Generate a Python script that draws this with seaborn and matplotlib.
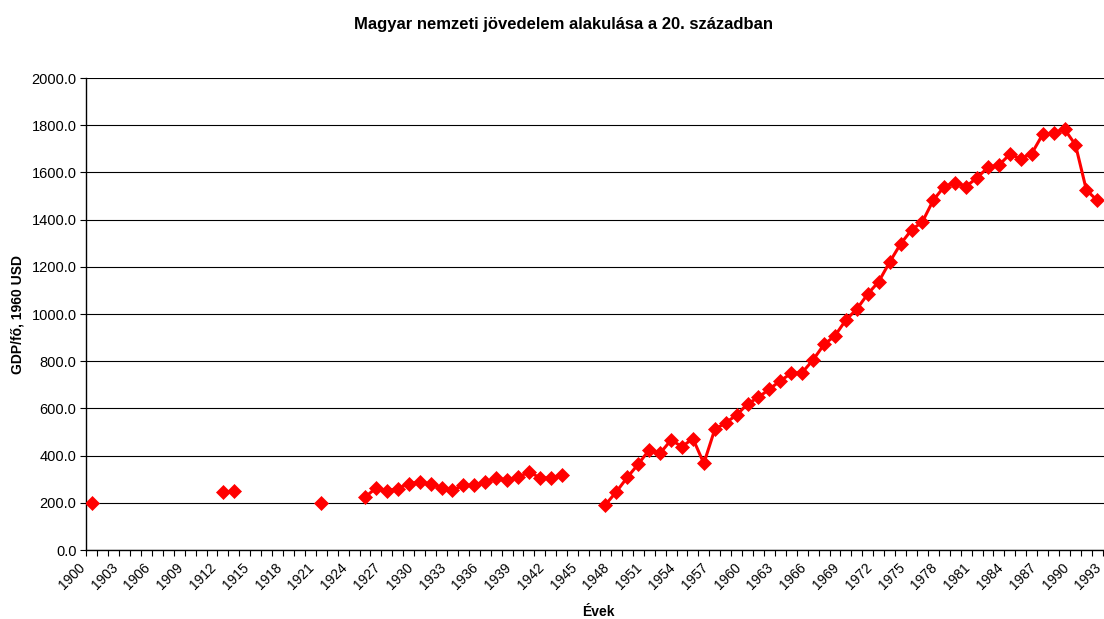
import numpy as np
import pandas as pd
import matplotlib
matplotlib.use("Agg")
import matplotlib.pyplot as plt
import matplotlib.transforms as mtrans
from matplotlib.ticker import MultipleLocator, FormatStrFormatter
import seaborn as sns

nan = np.nan
years = list(range(1900, 1994))
gdp = [
    200,                                                   # 1900
    nan, nan, nan, nan, nan, nan, nan, nan, nan, nan, nan,  # 1901-1911
    244, 248,                                              # 1912-1913
    nan, nan, nan, nan, nan, nan, nan,                     # 1914-1920
    198,                                                   # 1921
    nan, nan, nan,                                         # 1922-1924
    223, 263, 251, 260, 281, 288, 280, 264, 254, 274,      # 1925-1934
    274, 288, 304, 297, 308, 331, 306, 305, 319,           # 1935-1943
    nan, nan, nan,                                         # 1944-1946
    192, 247, 308,                                         # 1947-1949
    364, 424, 410, 466, 438, 472, 367, 511, 539, 572,      # 1950-1959
    619, 647, 682, 717, 749, 752, 806, 871, 908, 975,      # 1960-1969
    1021, 1085, 1137, 1220, 1297, 1356, 1391, 1483, 1540, 1556,  # 1970-1979
    1540, 1578, 1621, 1631, 1677, 1658, 1680, 1761, 1766, 1783,  # 1980-1989
    1717, 1525, 1481,                                      # 1990-1992
    nan,                                                   # 1993
]
label_years = years[::3]

title = "Magyar nemzeti jövedelem alakulása a 20. században"
xlabel = "Évek"
ylabel = "GDP/fő, 1960 USD"

sns.set_theme(style="white")
plt.rcParams["font.family"] = ["Liberation Sans", "DejaVu Sans"]
plt.rcParams["text.color"] = "black"
plt.rcParams["axes.labelcolor"] = "black"
plt.rcParams["xtick.color"] = "black"
plt.rcParams["ytick.color"] = "black"

W, H = 1104, 619
fig = plt.figure(figsize=(W / 100, H / 100), dpi=100)
ax_left, ax_bottom_px, ax_top_px = 86.3, 550, 78
ax_w = 94 * 10.93
ax = fig.add_axes([ax_left / W, (H - ax_bottom_px) / H, ax_w / W, (ax_bottom_px - ax_top_px) / H])

df = pd.DataFrame({"year": years, "gdp": gdp})
df["seg"] = df["gdp"].isna().cumsum()
df = df.dropna()

sns.lineplot(data=df, x="year", y="gdp", units="seg", estimator=None,
             color="#FF0000", lw=2.2, marker="D", markersize=7,
             markeredgecolor="#FF0000", markeredgewidth=0.5,
             ax=ax, legend=False, zorder=3)

ax.set_xlim(1899.5, 1993.5)
ax.set_ylim(0, 2000)
ax.yaxis.set_major_locator(MultipleLocator(200))
ax.yaxis.set_major_formatter(FormatStrFormatter("%.1f"))
ax.grid(axis="y", color="black", lw=0.8)
ax.grid(axis="x", visible=False)
ax.set_axisbelow(True)

ax.set_xticks(label_years)
ax.set_xticklabels([str(y) for y in label_years], rotation=45, ha="right",
                   va="center", rotation_mode="anchor", fontsize=10)
ax.set_xticks(np.arange(1899.5, 1994, 1), minor=True)
ax.tick_params(axis="x", which="major", length=0, pad=11)
ax.tick_params(axis="x", which="minor", length=4, width=0.8, direction="out", bottom=True)
ax.tick_params(axis="y", which="major", length=4, width=0.8, direction="out", left=True,
               pad=3, labelsize=10.5)
off = mtrans.ScaledTranslation(-9 / 100, 0, fig.dpi_scale_trans)
for lbl in ax.get_xticklabels():
    lbl.set_transform(lbl.get_transform() + off)

for s in ["top", "right"]:
    ax.spines[s].set_visible(False)
for s in ["left", "bottom"]:
    ax.spines[s].set_color("black")
    ax.spines[s].set_linewidth(1.0)

ax.set_xlabel(xlabel, fontweight="bold", fontsize=10)
ax.set_ylabel(ylabel, fontweight="bold", fontsize=10)
ax.xaxis.set_label_coords((598 - ax_left) / ax_w, -(612 - ax_bottom_px) / (ax_bottom_px - ax_top_px))
ax.yaxis.set_label_coords(-(ax_left - 18) / ax_w, 0.5)
ax.xaxis.label.set_va("center")
ax.yaxis.label.set_va("center")

fig.text(564 / W, 1 - 25 / H, title, ha="center", va="center", fontsize=12, fontweight="bold")

fig.savefig("out.png", dpi=100)
